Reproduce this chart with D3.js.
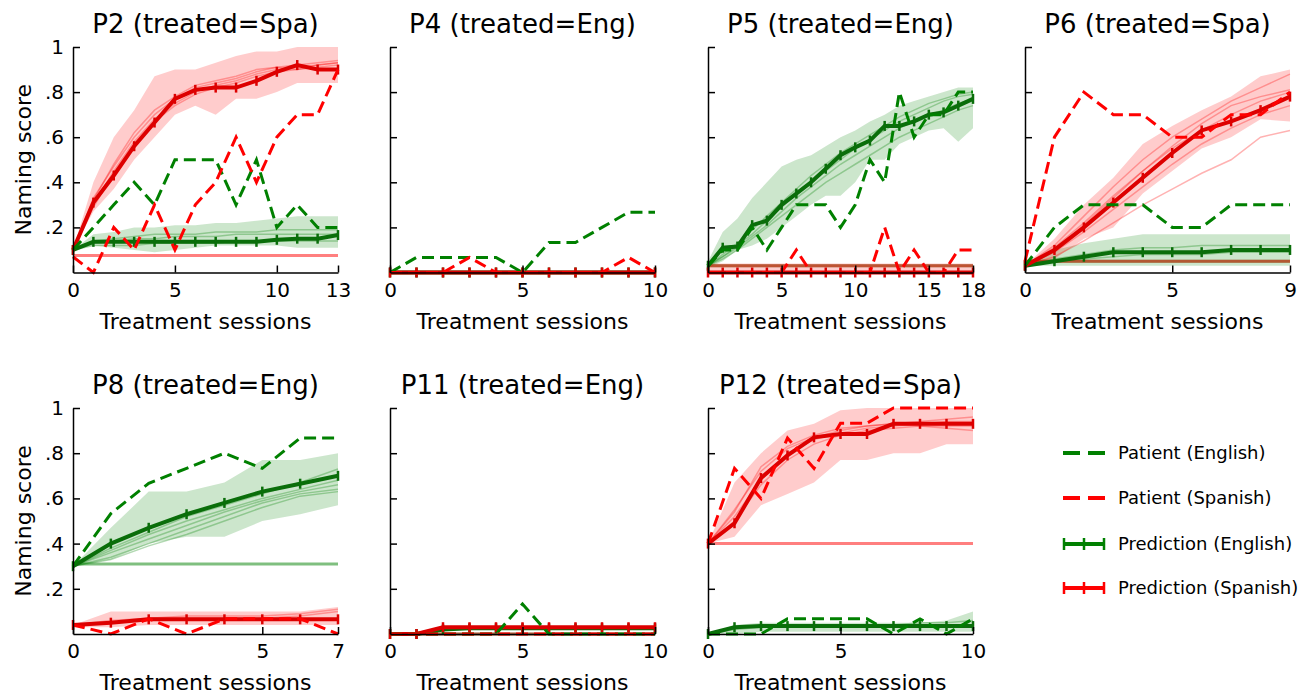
<!DOCTYPE html>
<html>
<head>
<meta charset="utf-8">
<script src="https://cdn.jsdelivr.net/npm/d3@7"></script>
<style>
  body { margin: 0; background: #fff; }
  svg { display: block; font-family: "DejaVu Sans", sans-serif; }
</style>
</head>
<body>
<div id="chart"></div>
<script>
// ---- data ----
const yTickValues = [0.2, 0.4, 0.6, 0.8, 1];
const yTickLabels = [".2", ".4", ".6", ".8", "1"];
const legendLabels = ["Patient (English)", "Patient (Spanish)", "Prediction (English)", "Prediction (Spanish)"];

// P2
const p2Ticks = [0, 5, 10, 13];
const p2PatEng = [0.10, 0.20, 0.30, 0.40, 0.30, 0.50, 0.50, 0.50, 0.30, 0.50, 0.20, 0.30, 0.20, 0.20];
const p2PatSpa = [0.07, 0.00, 0.20, 0.10, 0.30, 0.10, 0.30, 0.40, 0.60, 0.40, 0.60, 0.70, 0.70, 0.90];
const p2PredEng = [0.10, 0.136, 0.136, 0.136, 0.136, 0.136, 0.136, 0.136, 0.136, 0.136, 0.145, 0.15, 0.15, 0.166];
const p2PredSpa = [0.10, 0.31, 0.43, 0.56, 0.665, 0.77, 0.81, 0.82, 0.82, 0.85, 0.89, 0.92, 0.90, 0.90];
const p2EngLo = [0.10, 0.12, 0.11, 0.10, 0.09, 0.10, 0.11, 0.12, 0.12, 0.12, 0.12, 0.11, 0.11, 0.11];
const p2EngHi = [0.10, 0.17, 0.18, 0.20, 0.20, 0.21, 0.21, 0.22, 0.22, 0.23, 0.24, 0.25, 0.25, 0.25];
const p2SpaLo = [0.10, 0.27, 0.37, 0.50, 0.60, 0.70, 0.74, 0.70, 0.77, 0.77, 0.80, 0.84, 0.84, 0.84];
const p2SpaHi = [0.10, 0.40, 0.60, 0.72, 0.87, 0.90, 0.90, 0.93, 0.96, 0.98, 0.98, 1.00, 1.00, 1.00];
const p2SampEng = [
  [0.10, 0.13, 0.14, 0.15, 0.15, 0.16, 0.16, 0.16, 0.17, 0.17, 0.17, 0.17, 0.17, 0.17],
  [0.10, 0.14, 0.15, 0.16, 0.17, 0.17, 0.17, 0.18, 0.18, 0.18, 0.19, 0.19, 0.19, 0.19],
  [0.10, 0.12, 0.12, 0.12, 0.13, 0.13, 0.13, 0.13, 0.14, 0.14, 0.14, 0.14, 0.14, 0.14]
];
const p2SampSpa = [
  [0.10, 0.33, 0.47, 0.60, 0.70, 0.77, 0.82, 0.84, 0.86, 0.89, 0.91, 0.92, 0.93, 0.94],
  [0.10, 0.30, 0.45, 0.58, 0.68, 0.75, 0.80, 0.83, 0.85, 0.88, 0.90, 0.91, 0.92, 0.93],
  [0.10, 0.32, 0.48, 0.62, 0.72, 0.78, 0.83, 0.85, 0.87, 0.90, 0.91, 0.90, 0.91, 0.92],
  [0.10, 0.29, 0.44, 0.57, 0.67, 0.74, 0.79, 0.82, 0.84, 0.87, 0.89, 0.90, 0.92, 0.93]
];

// P4
const p4Ticks = [0, 5, 10];
const p4PatEng = [0, 0.067, 0.067, 0.067, 0.067, 0, 0.133, 0.133, 0.20, 0.267, 0.267];
const p4PatSpa = [0, 0, 0, 0.067, 0, 0, 0, 0, 0, 0.067, 0];
const p4PredEng = [0, 0, 0, 0, 0, 0, 0, 0, 0, 0, 0];
const p4PredSpa = [0, 0, 0, 0, 0, 0, 0, 0, 0, 0, 0];

// P5
const p5Ticks = [0, 5, 10, 15, 18];
const p5PatEng = [0.03, 0.10, 0.10, 0.20, 0.10, 0.20, 0.30, 0.30, 0.30, 0.20, 0.30, 0.50, 0.40, 0.80, 0.60, 0.70, 0.70, 0.80, 0.80];
const p5PatSpa = [0, 0, 0, 0, 0, 0, 0.10, 0, 0, 0, 0, 0, 0.20, 0, 0.10, 0, 0, 0.10, 0.10];
const p5PredEng = [0.03, 0.11, 0.115, 0.21, 0.23, 0.30, 0.35, 0.40, 0.46, 0.52, 0.555, 0.585, 0.65, 0.65, 0.67, 0.70, 0.71, 0.74, 0.77];
const p5PredSpa = [0, 0, 0, 0, 0, 0, 0, 0, 0, 0, 0, 0, 0, 0, 0, 0, 0, 0, 0];
const p5EngLo = [0.02, 0.05, 0.10, 0.12, 0.15, 0.20, 0.25, 0.30, 0.34, 0.34, 0.40, 0.50, 0.50, 0.57, 0.60, 0.63, 0.64, 0.58, 0.64];
const p5EngHi = [0.05, 0.18, 0.24, 0.33, 0.40, 0.47, 0.50, 0.52, 0.56, 0.60, 0.63, 0.67, 0.70, 0.74, 0.76, 0.78, 0.80, 0.82, 0.82];
const p5SpaLo = [0, 0, 0, 0, 0, 0, 0, 0, 0, 0, 0, 0, 0, 0, 0, 0, 0, 0, 0];
const p5SpaHi = [0.04, 0.04, 0.04, 0.04, 0.04, 0.04, 0.04, 0.04, 0.04, 0.04, 0.04, 0.04, 0.04, 0.04, 0.04, 0.04, 0.04, 0.04, 0.04];
const p5SampEng = [
  [0.03, 0.08, 0.13, 0.19, 0.25, 0.31, 0.37, 0.43, 0.48, 0.53, 0.57, 0.61, 0.65, 0.69, 0.72, 0.75, 0.77, 0.79, 0.80],
  [0.03, 0.07, 0.12, 0.17, 0.23, 0.29, 0.35, 0.40, 0.45, 0.50, 0.55, 0.59, 0.63, 0.67, 0.70, 0.73, 0.76, 0.78, 0.79],
  [0.03, 0.06, 0.10, 0.15, 0.20, 0.25, 0.30, 0.35, 0.40, 0.44, 0.48, 0.52, 0.56, 0.60, 0.63, 0.66, 0.69, 0.72, 0.74],
  [0.03, 0.07, 0.11, 0.16, 0.21, 0.27, 0.33, 0.38, 0.43, 0.48, 0.52, 0.56, 0.60, 0.64, 0.67, 0.70, 0.72, 0.75, 0.77]
];

// P6
const p6Ticks = [0, 5, 9];
const p6PatEng = [0.03, 0.20, 0.30, 0.30, 0.30, 0.20, 0.20, 0.30, 0.30, 0.30];
const p6PatSpa = [0.05, 0.60, 0.80, 0.70, 0.70, 0.60, 0.60, 0.70, 0.70, 0.80];
const p6PredEng = [0.03, 0.05, 0.07, 0.09, 0.09, 0.09, 0.09, 0.10, 0.10, 0.10];
const p6PredSpa = [0.03, 0.10, 0.20, 0.31, 0.42, 0.53, 0.63, 0.67, 0.72, 0.78];
const p6EngLo = [0.03, 0.03, 0.03, 0.03, 0.03, 0.03, 0.03, 0.03, 0.03, 0.03];
const p6EngHi = [0.03, 0.10, 0.13, 0.15, 0.17, 0.17, 0.17, 0.17, 0.17, 0.17];
const p6SpaLo = [0.03, 0.06, 0.15, 0.20, 0.35, 0.45, 0.55, 0.60, 0.68, 0.67];
const p6SpaHi = [0.03, 0.15, 0.30, 0.42, 0.57, 0.65, 0.72, 0.78, 0.87, 0.90];
const p6SampEng = [
  [0.03, 0.06, 0.08, 0.10, 0.11, 0.11, 0.12, 0.12, 0.12, 0.12],
  [0.03, 0.05, 0.06, 0.07, 0.08, 0.08, 0.08, 0.09, 0.09, 0.09]
];
const p6SampSpa = [
  [0.03, 0.12, 0.25, 0.38, 0.50, 0.60, 0.68, 0.76, 0.82, 0.88],
  [0.03, 0.10, 0.21, 0.33, 0.45, 0.56, 0.66, 0.74, 0.78, 0.81],
  [0.03, 0.09, 0.18, 0.28, 0.38, 0.48, 0.57, 0.64, 0.70, 0.74],
  [0.03, 0.07, 0.14, 0.22, 0.30, 0.37, 0.44, 0.50, 0.60, 0.63],
  [0.03, 0.11, 0.22, 0.34, 0.45, 0.55, 0.63, 0.70, 0.76, 0.80]
];

// P8
const p8Ticks = [0, 5, 7];
const p8PatEng = [0.30, 0.533, 0.667, 0.733, 0.80, 0.733, 0.867, 0.867];
const p8PatSpa = [0.04, 0, 0.067, 0, 0.067, 0.067, 0.067, 0];
const p8PredEng = [0.30, 0.40, 0.47, 0.53, 0.58, 0.63, 0.665, 0.70];
const p8PredSpa = [0.04, 0.05, 0.065, 0.065, 0.065, 0.065, 0.065, 0.065];
const p8EngLo = [0.30, 0.33, 0.40, 0.43, 0.43, 0.50, 0.53, 0.57];
const p8EngHi = [0.30, 0.47, 0.63, 0.63, 0.67, 0.77, 0.77, 0.80];
const p8SpaLo = [0.03, 0.03, 0.04, 0.04, 0.04, 0.04, 0.04, 0.04];
const p8SpaHi = [0.04, 0.10, 0.10, 0.10, 0.10, 0.10, 0.10, 0.12];
const p8SampEng = [
  [0.30, 0.36, 0.42, 0.48, 0.54, 0.59, 0.63, 0.66],
  [0.30, 0.34, 0.40, 0.46, 0.52, 0.58, 0.62, 0.64],
  [0.30, 0.37, 0.44, 0.50, 0.55, 0.60, 0.64, 0.68],
  [0.30, 0.33, 0.39, 0.44, 0.50, 0.56, 0.61, 0.63],
  [0.30, 0.38, 0.45, 0.52, 0.57, 0.62, 0.67, 0.73]
];
const p8SampSpa = [
  [0.04, 0.05, 0.07, 0.07, 0.07, 0.07, 0.08, 0.10],
  [0.04, 0.06, 0.07, 0.08, 0.08, 0.08, 0.09, 0.11]
];

// P11
const p11Ticks = [0, 5, 10];
const p11PatEng = [0, 0, 0, 0, 0, 0.133, 0, 0, 0, 0, 0];
const p11PatSpa = [0, 0, 0, 0, 0, 0, 0, 0, 0, 0, 0];
const p11PredEng = [0, 0, 0.02, 0.025, 0.025, 0.025, 0.025, 0.025, 0.025, 0.025, 0.025];
const p11PredSpa = [0, 0, 0.03, 0.03, 0.03, 0.03, 0.03, 0.03, 0.03, 0.03, 0.03];

// P12
const p12Ticks = [0, 5, 10];
const p12PatEng = [0, 0, 0, 0.067, 0.067, 0.067, 0.067, 0, 0.067, 0, 0.067];
const p12PatSpa = [0.40, 0.733, 0.60, 0.867, 0.733, 0.933, 0.933, 1.0, 1.0, 1.0, 1.0];
const p12PredEng = [0, 0.03, 0.035, 0.035, 0.035, 0.035, 0.035, 0.035, 0.035, 0.035, 0.035];
const p12PredSpa = [0.40, 0.49, 0.69, 0.79, 0.87, 0.885, 0.885, 0.93, 0.93, 0.93, 0.93];
const p12EngLo = [0, 0, 0.01, 0.01, 0.01, 0.01, 0.01, 0.01, 0.01, 0.01, 0.01];
const p12EngHi = [0, 0.04, 0.05, 0.05, 0.05, 0.05, 0.05, 0.05, 0.05, 0.06, 0.10];
const p12SpaLo = [0.40, 0.43, 0.57, 0.62, 0.67, 0.77, 0.77, 0.80, 0.80, 0.84, 0.84];
const p12SpaHi = [0.40, 0.67, 0.80, 0.90, 0.93, 0.99, 1.0, 1.0, 1.0, 1.0, 1.0];
const p12SampEng = [
  [0, 0.02, 0.03, 0.04, 0.04, 0.04, 0.04, 0.04, 0.05, 0.05, 0.06]
];
const p12SampSpa = [
  [0.40, 0.55, 0.72, 0.82, 0.87, 0.90, 0.92, 0.93, 0.94, 0.95, 0.96],
  [0.40, 0.52, 0.68, 0.80, 0.86, 0.89, 0.91, 0.92, 0.93, 0.94, 0.94],
  [0.40, 0.50, 0.66, 0.77, 0.84, 0.88, 0.90, 0.91, 0.92, 0.92, 0.92],
  [0.40, 0.54, 0.74, 0.83, 0.88, 0.91, 0.92, 0.93, 0.92, 0.91, 0.90]
];

// panels: title, ticks, series, untreated baselines
const panels = [
  { title: "P2 (treated=Spa)", col: 0, row: 0, ticks: p2Ticks, patEng: p2PatEng, patSpa: p2PatSpa, predEng: p2PredEng, predSpa: p2PredSpa,
    engLo: p2EngLo, engHi: p2EngHi, spaLo: p2SpaLo, spaHi: p2SpaHi, sampEng: p2SampEng, sampSpa: p2SampSpa, baseSpa: 0.075 },
  { title: "P4 (treated=Eng)", col: 1, row: 0, ticks: p4Ticks, patEng: p4PatEng, patSpa: p4PatSpa, predEng: p4PredEng, predSpa: p4PredSpa,
    baseEng: 0, baseSpa: 0 },
  { title: "P5 (treated=Eng)", col: 2, row: 0, ticks: p5Ticks, patEng: p5PatEng, patSpa: p5PatSpa, predEng: p5PredEng, predSpa: p5PredSpa,
    engLo: p5EngLo, engHi: p5EngHi, spaLo: p5SpaLo, spaHi: p5SpaHi, sampEng: p5SampEng, baseEng: 0.03, baseSpa: 0.03 },
  { title: "P6 (treated=Spa)", col: 3, row: 0, ticks: p6Ticks, patEng: p6PatEng, patSpa: p6PatSpa, predEng: p6PredEng, predSpa: p6PredSpa,
    engLo: p6EngLo, engHi: p6EngHi, spaLo: p6SpaLo, spaHi: p6SpaHi, sampEng: p6SampEng, sampSpa: p6SampSpa, baseEng: 0.05, baseSpa: 0.05 },
  { title: "P8 (treated=Eng)", col: 0, row: 1, ticks: p8Ticks, patEng: p8PatEng, patSpa: p8PatSpa, predEng: p8PredEng, predSpa: p8PredSpa,
    engLo: p8EngLo, engHi: p8EngHi, spaLo: p8SpaLo, spaHi: p8SpaHi, sampEng: p8SampEng, sampSpa: p8SampSpa, baseEng: 0.31 },
  { title: "P11 (treated=Eng)", col: 1, row: 1, ticks: p11Ticks, patEng: p11PatEng, patSpa: p11PatSpa, predEng: p11PredEng, predSpa: p11PredSpa,
    baseEng: 0, baseSpa: 0 },
  { title: "P12 (treated=Spa)", col: 2, row: 1, ticks: p12Ticks, patEng: p12PatEng, patSpa: p12PatSpa, predEng: p12PredEng, predSpa: p12PredSpa,
    engLo: p12EngLo, engHi: p12EngHi, spaLo: p12SpaLo, spaHi: p12SpaHi, sampEng: p12SampEng, sampSpa: p12SampSpa, baseSpa: 0.40 }
];

// ---- layout ----
const width = 1316, height = 696;
const colLeft = [73, 390, 708, 1025];
const panelW = 265;
const rowTop = [47, 408];
const rowBottom = [272.5, 634];

const green = "#008000", red = "#ff0000";
const predGreen = "#0a6e0a", predRed = "#dd0000";

const svg = d3.select("#chart").append("svg").attr("width", width).attr("height", height);

function drawPanel(p) {
  const n = p.predEng.length - 1;
  const x = d3.scaleLinear().domain([0, n]).range([colLeft[p.col], colLeft[p.col] + panelW]);
  const y = d3.scaleLinear().domain([0, 1]).range([rowBottom[p.row], rowTop[p.row]]);
  const g = svg.append("g");
  const line = d3.line().x((d, i) => x(i)).y(d => y(d));
  const area = (lo, hi) => d3.area().x((d, i) => x(i)).y0((d, i) => y(lo[i])).y1(d => y(d))(hi);

  // bands
  if (p.engLo) g.append("path").attr("d", area(p.engLo, p.engHi)).attr("fill", green).attr("fill-opacity", 0.2);
  if (p.spaLo) g.append("path").attr("d", area(p.spaLo, p.spaHi)).attr("fill", red).attr("fill-opacity", 0.2);

  // samples
  (p.sampEng || []).forEach(s => g.append("path").attr("d", line(s)).attr("fill", "none")
    .attr("stroke", green).attr("stroke-opacity", 0.3).attr("stroke-width", 1.5));
  (p.sampSpa || []).forEach(s => g.append("path").attr("d", line(s)).attr("fill", "none")
    .attr("stroke", red).attr("stroke-opacity", 0.3).attr("stroke-width", 1.5));

  // untreated baselines
  if (p.baseEng !== undefined) g.append("line").attr("x1", x(0)).attr("x2", x(n))
    .attr("y1", y(p.baseEng)).attr("y2", y(p.baseEng)).attr("stroke", green).attr("stroke-opacity", 0.5).attr("stroke-width", 3);
  if (p.baseSpa !== undefined) g.append("line").attr("x1", x(0)).attr("x2", x(n))
    .attr("y1", y(p.baseSpa)).attr("y2", y(p.baseSpa)).attr("stroke", red).attr("stroke-opacity", 0.5).attr("stroke-width", 3);

  // predictions with | markers
  [[p.predEng, predGreen], [p.predSpa, predRed]].forEach(([s, c]) => {
    g.append("path").attr("d", line(s)).attr("fill", "none").attr("stroke", c).attr("stroke-width", 4);
    g.selectAll(null).data(s).enter().append("line")
      .attr("x1", (d, i) => x(i)).attr("x2", (d, i) => x(i))
      .attr("y1", d => y(d) - 5).attr("y2", d => y(d) + 5)
      .attr("stroke", c).attr("stroke-width", 2.5);
  });

  // patient dashed
  [[p.patEng, green], [p.patSpa, red]].forEach(([s, c]) => {
    g.append("path").attr("d", line(s)).attr("fill", "none").attr("stroke", c)
      .attr("stroke-width", 3).attr("stroke-dasharray", "12,6");
  });

  // axes
  const yAxis = d3.axisLeft(y).tickValues(yTickValues).tickSizeInner(-7).tickSizeOuter(0).tickPadding(9)
    .tickFormat((d, i) => p.col === 0 ? yTickLabels[i] : "");
  const xAxis = d3.axisBottom(x).tickValues(p.ticks).tickSizeInner(-7).tickSizeOuter(0).tickPadding(10)
    .tickFormat(d3.format("d"));
  const ya = g.append("g").attr("transform", `translate(${x(0)},0)`).call(yAxis);
  const xa = g.append("g").attr("transform", `translate(0,${y(0)})`).call(xAxis);
  [ya, xa].forEach(a => {
    a.select(".domain").attr("stroke", "#000").attr("stroke-width", 1.5);
    a.selectAll(".tick line").attr("stroke", "#000").attr("stroke-width", 1.5);
    a.selectAll("text").attr("font-size", 20).attr("fill", "#000").attr("font-family", "DejaVu Sans");
  });

  // labels
  const cx = colLeft[p.col] + panelW / 2;
  g.append("text").attr("x", cx).attr("y", rowTop[p.row] - 14).attr("text-anchor", "middle")
    .attr("font-size", 26).text(p.title);
  g.append("text").attr("x", cx).attr("y", rowBottom[p.row] + 56).attr("text-anchor", "middle")
    .attr("font-size", 22).text("Treatment sessions");
  if (p.col === 0) {
    g.append("text").attr("transform", `translate(31,${(rowTop[p.row] + rowBottom[p.row]) / 2}) rotate(-90)`)
      .attr("text-anchor", "middle").attr("font-size", 22).text("Naming score");
  }
}

panels.forEach(drawPanel);

// ---- legend ----
const legendY = [453, 498, 544, 588];
const leg = svg.append("g");
legendLabels.forEach((lab, i) => {
  const yy = legendY[i];
  const c = i % 2 === 0 ? green : red;
  if (i < 2) {
    leg.append("line").attr("x1", 1063).attr("x2", 1105).attr("y1", yy).attr("y2", yy)
      .attr("stroke", c).attr("stroke-width", 4).attr("stroke-dasharray", "17,8");
  } else {
    leg.append("line").attr("x1", 1063).attr("x2", 1105).attr("y1", yy).attr("y2", yy)
      .attr("stroke", c).attr("stroke-width", 4);
    [1064, 1084, 1104].forEach(mx => leg.append("line").attr("x1", mx).attr("x2", mx)
      .attr("y1", yy - 6).attr("y2", yy + 6).attr("stroke", c).attr("stroke-width", 2.5));
  }
  leg.append("text").attr("x", 1118).attr("y", yy).attr("dy", "0.35em").attr("font-size", 18).text(lab);
});
</script>
</body>
</html>
